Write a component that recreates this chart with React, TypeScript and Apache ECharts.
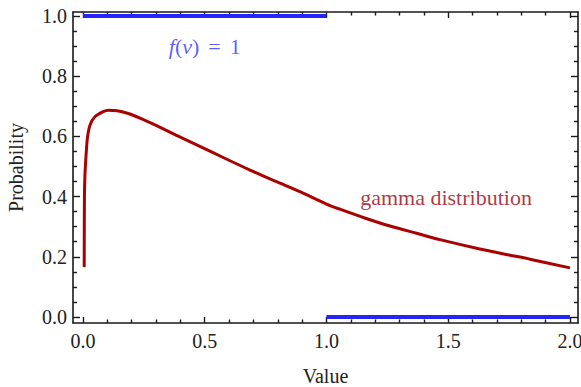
import React, { useEffect, useRef } from "react";
import * as echarts from "echarts";

// gamma distribution curve
const gammaX = [0.005, 0.006, 0.008, 0.011, 0.018, 0.029, 0.049, 0.083, 0.104, 0.14, 0.186, 0.25, 0.296, 0.38, 0.48, 0.58, 0.686, 0.79, 0.891, 1.0, 1.055, 1.16, 1.261, 1.37, 1.466, 1.63, 1.75, 1.836, 2.0];
const gammaY = [0.166, 0.405, 0.47, 0.515, 0.593, 0.638, 0.665, 0.682, 0.687, 0.685, 0.676, 0.655, 0.638, 0.605, 0.567, 0.528, 0.488, 0.451, 0.416, 0.375, 0.358, 0.328, 0.302, 0.278, 0.257, 0.226, 0.206, 0.192, 0.163];

// uniform f(v) = 1 segments
const uniformTopX = [0, 1];
const uniformTopY = [1, 1];
const uniformBottomX = [1, 2];
const uniformBottomY = [0, 0];

// ticks
const xMajor = [0, 0.5, 1, 1.5, 2];
const xMinor = [0.1, 0.2, 0.3, 0.4, 0.6, 0.7, 0.8, 0.9, 1.1, 1.2, 1.3, 1.4, 1.6, 1.7, 1.8, 1.9];
const yMajor = [0, 0.2, 0.4, 0.6, 0.8, 1.0];
const yMinor = [0.05, 0.1, 0.15, 0.25, 0.3, 0.35, 0.45, 0.5, 0.55, 0.65, 0.7, 0.75, 0.85, 0.9, 0.95];

// annotation anchors (data coordinates of the label centres)
const uniformLabelAt = [0.5, 0.897];
const gammaLabelAt = [1.491, 0.398];

const FONT = "'Liberation Serif', 'Times New Roman', serif";
const FRAME = "#1a1a1a";
const TXT = "#222";

function makeX(position: "bottom" | "top", ticks: number[], len: number, main: boolean, labels: boolean) {
  return {
    type: "value",
    gridIndex: 0,
    position,
    min: -0.041,
    max: 2.033,
    axisLine: { show: main, onZero: false, lineStyle: { color: FRAME, width: 1.6 } },
    axisTick: { show: true, inside: true, length: len, customValues: ticks, lineStyle: { color: FRAME, width: 1.4 } },
    axisLabel: labels
      ? { show: true, customValues: ticks, margin: 8, formatter: (v: number) => v.toFixed(1), fontFamily: FONT, fontSize: 20, color: TXT }
      : { show: false },
    splitLine: { show: false },
    ...(labels
      ? { name: "Value", nameLocation: "middle", nameGap: 45, nameTextStyle: { fontFamily: FONT, fontSize: 20, lineHeight: 16, color: TXT } }
      : {}),
  };
}

function makeY(position: "left" | "right", ticks: number[], len: number, main: boolean, labels: boolean) {
  return {
    type: "value",
    gridIndex: 0,
    position,
    min: -0.02,
    max: 1.013,
    axisLine: { show: main, onZero: false, lineStyle: { color: FRAME, width: 1.6 } },
    axisTick: { show: true, inside: true, length: len, customValues: ticks, lineStyle: { color: FRAME, width: 1.4 } },
    axisLabel: labels
      ? { show: true, customValues: ticks, margin: 6, formatter: (v: number) => v.toFixed(1), fontFamily: FONT, fontSize: 20, color: TXT }
      : { show: false },
    splitLine: { show: false },
    ...(labels
      ? { name: "Probability", nameLocation: "middle", nameGap: 47, nameTextStyle: { fontFamily: FONT, fontSize: 20, color: TXT } }
      : {}),
  };
}

export default function App() {
  const ref = useRef<HTMLDivElement>(null);
  useEffect(() => {
    if (!ref.current) return;
    const chart = echarts.init(ref.current, null, { renderer: "svg" });
    chart.setOption({
      animation: false,
      backgroundColor: "#ffffff",
      textStyle: { fontFamily: FONT },
      grid: { left: 73, right: 3, top: 12, bottom: 64, containLabel: false, outerBoundsMode: "none" },
      xAxis: [
        makeX("bottom", xMajor, 6, true, true),
        makeX("bottom", xMinor, 3.5, false, false),
        makeX("top", xMajor, 6, true, false),
        makeX("top", xMinor, 3.5, false, false),
      ],
      yAxis: [
        makeY("left", yMajor, 7, true, true),
        makeY("left", yMinor, 4, false, false),
        makeY("right", yMajor, 7, true, false),
        makeY("right", yMinor, 4, false, false),
      ],
      series: [
        {
          type: "line",
          xAxisIndex: 0,
          yAxisIndex: 0,
          data: uniformTopX.map((x, i) => [x, uniformTopY[i]]),
          symbol: "none",
          lineStyle: { color: "#2424ff", width: 4, cap: "butt" },
        },
        {
          type: "line",
          xAxisIndex: 0,
          yAxisIndex: 0,
          data: uniformBottomX.map((x, i) => [x, uniformBottomY[i]]),
          symbol: "none",
          lineStyle: { color: "#2424ff", width: 4, cap: "butt" },
        },
        {
          type: "line",
          xAxisIndex: 0,
          yAxisIndex: 0,
          data: gammaX.map((x, i) => [x, gammaY[i]]),
          symbol: "none",
          smooth: 0.3,
          lineStyle: { color: "#aa0000", width: 3 },
        },
        {
          type: "scatter",
          xAxisIndex: 0,
          yAxisIndex: 0,
          silent: true,
          symbolSize: 1,
          itemStyle: { color: "rgba(0,0,0,0)" },
          data: [
            {
              value: uniformLabelAt,
              label: {
                show: true,
                position: "inside",
                formatter: "{i|f}{n|(}{i|v}{n|)}{e|=}{n|1}",
                rich: {
                  i: { fontFamily: FONT, fontSize: 22, fontStyle: "italic", color: "#3333ff" },
                  n: { fontFamily: FONT, fontSize: 22, color: "#3333ff" },
                  e: { fontFamily: FONT, fontSize: 22, color: "#3333ff", padding: [0, 9] },
                },
              },
            },
            {
              value: gammaLabelAt,
              label: {
                show: true,
                position: "inside",
                formatter: "gamma distribution",
                fontFamily: FONT,
                fontSize: 22,
                color: "#9c0010",
              },
            },
          ],
        },
      ],
    });
    return () => chart.dispose();
  }, []);
  return <div ref={ref} style={{ position: "fixed", left: 0, top: 0, width: 581, height: 387 }} />;
}
